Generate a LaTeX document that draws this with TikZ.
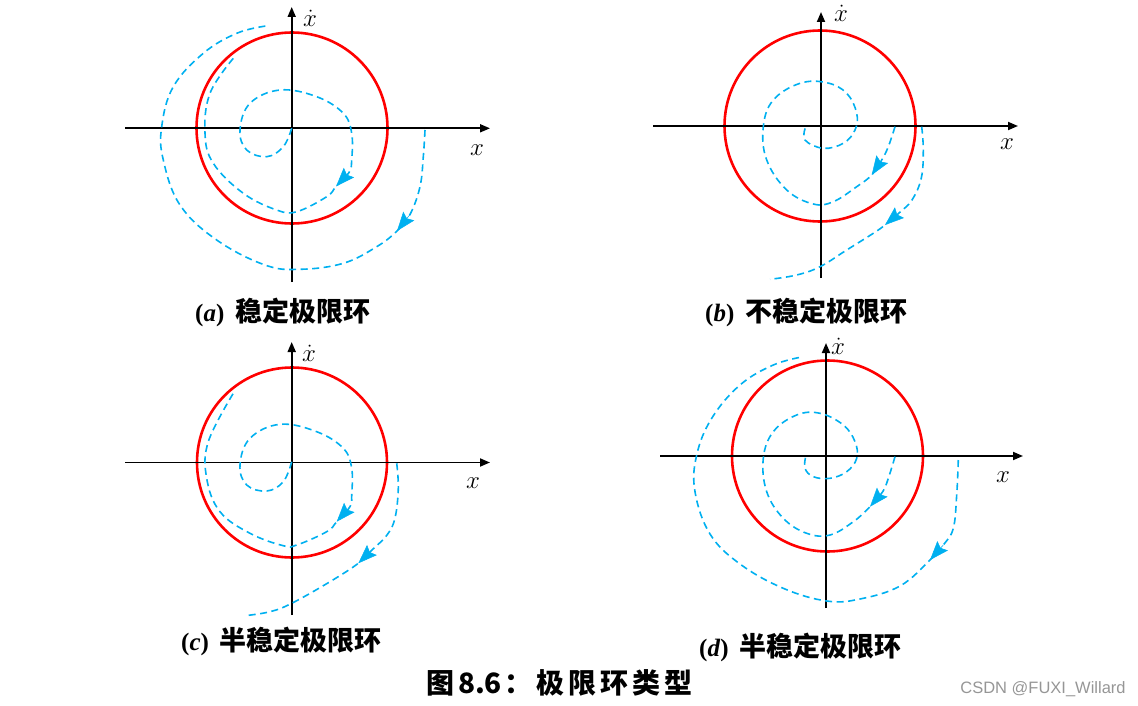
\documentclass[tikz,border=0pt]{standalone}
\usepackage{fontspec}
\usetikzlibrary{arrows.meta}
\newfontfamily\cjk{Noto Sans CJK SC}
\newfontfamily\lserif{Liberation Serif}
\newfontfamily\wmfont{Liberation Sans}
\definecolor{trajblue}{RGB}{0,176,240}
\definecolor{lcred}{RGB}{255,0,0}
\definecolor{wmgray}{RGB}{150,150,150}
\newcommand{\capletter}[1]{{\lserif\fontsize{25}{30}\selectfont\bfseries(\textit{#1})}}
\begin{document}
\begin{tikzpicture}[x=1pt,y=-1pt,
  axis/.style={line width=1.8pt,-{Triangle[length=10pt,width=8pt]}},
  limitcycle/.style={draw=lcred,line width=2.6pt},
  traj/.style={draw=trajblue,line width=1.6pt,dash pattern=on 7pt off 4.5pt},
  trajtip/.style={draw=trajblue,fill=trajblue,solid,line width=0.5pt,-{Stealth[length=19pt,width=14pt,inset=3pt]}},
  axlabel/.style={inner sep=0pt,font=\fontsize{30}{34}\selectfont},
  captext/.style={inner sep=0pt,anchor=west,font=\cjk\bfseries\fontsize{27}{32}\selectfont},
  titletext/.style={inner sep=0pt,font=\cjk\bfseries\fontsize{28}{32}\selectfont},
  watermark/.style={inner sep=0pt,text=wmgray,font=\wmfont\fontsize{16.5}{20}\selectfont}]
\path[use as bounding box] (0,0) rectangle (1138,706);

% ---------------- panel (a) ----------------
\draw[limitcycle] (292,128) circle[radius=95.5];
\draw[axis] (125,128.3) -- (490,128.3);
\draw[axis] (291.7,282) -- (291.7,7);
\draw[traj] plot[smooth,tension=0.65] coordinates {(291.7,128.3) (283.3,146.7) (266.7,156.7) (246.7,150) (240,130) (250,103.3) (280,90) (316.7,96.7) (343.3,113.3) (351.7,133.3) (351.7,160) (349,172.5) (336,186.5) (326.7,196.7) (296.7,211.7) (276.7,210) (243.3,193.3) (213.3,163.3) (205,133.3) (210,93.3) (233.3,58.3)};
\draw[traj] plot[smooth,tension=0.65] coordinates {(425,130) (423.3,156.7) (420,186.7) (410,214.5) (397,231) (376.7,246.7) (343.3,263.3) (300,269.3) (265,265) (216.7,240) (180,205) (163.3,160) (161.7,126.7) (173.3,86.7) (203.3,53.3) (236.7,33.3) (266,26)};
\draw[trajtip] (349,172.5) -- (336,186.5);
\draw[trajtip] (410,214.5) -- (397,231);
\node[axlabel] (xa) at (477,150) {$x$};
\node[axlabel] (xda) at (310,18) {$\dot{x}$};
\node[captext] (capa) at (195,312) {\capletter{a}\hspace{11pt}稳定极限环};

% ---------------- panel (b) ----------------
\draw[limitcycle] (820,126) circle[radius=95.5];
\draw[axis] (653,126) -- (1018,126);
\draw[axis] (821,278) -- (821,12);
\draw[traj] plot[smooth,tension=0.65] coordinates {(895,126.7) (888.3,146.7) (881.7,160) (871.7,175) (856.7,186.7) (833.3,201.7) (813.3,204) (786.7,190) (766.7,160) (763.3,126.7) (773.3,100) (800,83.3) (826.7,82.7) (846.7,93.3) (856.7,113.3) (855,130) (843.3,143.3) (823.3,148.3) (805,140) (805.7,126.7)};
\draw[traj] plot[smooth,tension=0.65] coordinates {(921.7,126.7) (923.3,150) (921.3,178) (912,200) (899,213) (885,225) (873.3,233.3) (846.7,250) (820,266.7) (796.7,275) (770,279.3)};
\draw[trajtip] (881.7,160) -- (871.7,175);
\draw[trajtip] (899,213) -- (885,225);
\node[axlabel] (xb) at (1007,144) {$x$};
\node[axlabel] (xdb) at (841,13) {$\dot{x}$};
\node[captext] (capb) at (705,312) {\capletter{b}\hspace{11pt}不稳定极限环};

% ---------------- panel (c) ----------------
\draw[limitcycle] (292,462.5) circle[radius=95];
\draw[axis] (125,462.5) -- (490,462.5);
\draw[axis] (291.7,615) -- (291.7,342);
\draw[traj] plot[smooth,tension=0.65] coordinates {(291.7,461.7) (283.3,481.7) (266.7,491) (246.7,485) (240,465) (250,438.3) (280,424.3) (316.7,431.7) (343.3,448.3) (351.7,468.3) (351.7,495) (350,506.7) (336.7,521.7) (326.7,531.7) (296.7,545) (283.3,545.7) (250,533.3) (220,511.7) (206.7,478.3) (208.3,441.7) (233.3,393.3)};
\draw[traj] plot[smooth,tension=0.65] coordinates {(396.7,463.3) (398.3,488.3) (395,518) (387,535) (372,550) (358.3,563.3) (330,581.7) (291.7,603.3) (270,611.7) (245,615.7)};
\draw[trajtip] (350,506.7) -- (336.7,521.7);
\draw[trajtip] (372,550) -- (358.3,563.3);
\node[axlabel] (xc) at (473,483) {$x$};
\node[axlabel] (xdc) at (309,353) {$\dot{x}$};
\node[captext] (capc) at (181,641) {\capletter{c}\hspace{11pt}半稳定极限环};

% ---------------- panel (d) ----------------
\draw[limitcycle] (827.5,456) circle[radius=95.5];
\draw[axis] (660,456) -- (1023,456);
\draw[axis] (826,608) -- (826,343);
\draw[traj] plot[smooth,tension=0.65] coordinates {(895,456.7) (888.3,478.3) (882.7,491.7) (870,506.7) (853.3,521.7) (830,535) (806.7,533.3) (783.3,518.3) (766.7,491.7) (763.3,458.3) (773.3,431.7) (796.7,415) (820,413.3) (843.3,425) (855,441.7) (856.7,458.3) (846.7,471.7) (830,478.3) (813.3,476.7) (805,468.3) (805.7,456.7)};
\draw[traj] plot[smooth,tension=0.65] coordinates {(958.3,460) (956.7,495) (953.3,528.3) (943.3,545) (930,560) (900,586) (860,599) (826.7,601) (783.3,588.3) (740,564) (710,534) (695,491.7) (696.7,455) (711.7,418.3) (740,385) (773.3,365) (803.3,356.7)};
\draw[trajtip] (943.3,545) -- (930,560);
\draw[trajtip] (882.7,491.7) -- (870,506.7);
\node[axlabel] (xd) at (1003,477) {$x$};
\node[axlabel] (xdd) at (838,346) {$\dot{x}$};
\node[captext] (capd) at (699,647) {\capletter{d}\hspace{11pt}半稳定极限环};

% ---------------- title and watermark ----------------
\node[titletext] (title) at (559.5,683) {图\hspace{4pt}8.6\hspace{3pt}：\hspace{4pt}极\hspace{4pt}限\hspace{4pt}环\hspace{4pt}类\hspace{4pt}型};
\node[watermark] (wm) at (1043,689) {CSDN @FUXI\_Willard};
\end{tikzpicture}
\end{document}
